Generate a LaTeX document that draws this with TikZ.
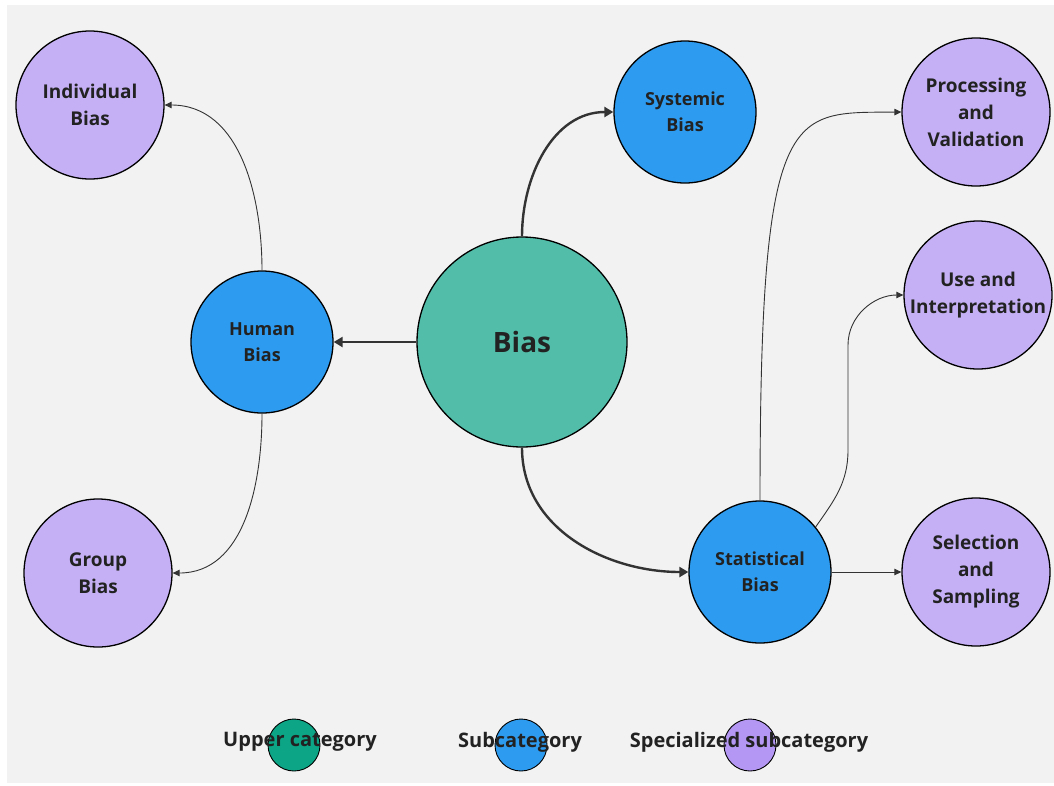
\documentclass[tikz,border=0pt]{standalone}
\usepackage{fontspec}
\setmainfont{Open Sans}
\usetikzlibrary{arrows.meta}
\definecolor{bgc}{HTML}{F2F2F2}
\definecolor{upc}{HTML}{52BEAA}
\definecolor{subc}{HTML}{2D9BF0}
\definecolor{specc}{HTML}{C5B0F5}
\definecolor{legup}{HTML}{0CA585}
\definecolor{legspec}{HTML}{B497F5}
\definecolor{linec}{HTML}{333333}
\definecolor{txtc}{HTML}{222222}
\tikzset{
  circ/.style={circle, draw=black, line width=1.3pt, inner sep=0pt, align=center,
    font=\bfseries\fontsize{19}{27}\selectfont, text=txtc},
  upper/.style={circ, fill=upc, minimum size=210pt, font=\bfseries\fontsize{28}{32}\selectfont},
  subn/.style={circ, fill=subc, minimum size=142pt, font=\bfseries\fontsize{18}{26}\selectfont},
  spec/.style={circ, fill=specc, minimum size=148pt},
  thickarrow/.style={draw=linec, line width=2.4pt, -{Triangle[length=9pt,width=10pt]}},
  thinarrow/.style={draw=linec, line width=0.9pt, -{Triangle[length=7pt,width=6.5pt]}},
  legcirc/.style={circle, draw=black, line width=0.9pt, minimum size=52pt, inner sep=0pt},
  legtxt/.style={font=\bfseries\fontsize{20}{24}\selectfont, text=txtc, inner sep=0pt}
}
\begin{document}
\begin{tikzpicture}[x=1pt,y=-1pt]
\useasboundingbox (0,0) rectangle (1054,785);
\fill[white] (0,0) rectangle (1054,785);
\fill[bgc] (7,5) rectangle (1054,783);

\node[upper] (bias) at (522,342) {Bias};
\node[subn] (human) at (262,342) {Human\\Bias};
\node[subn] (sys) at (685,112) {Systemic\\Bias};
\node[subn] (stat) at (760,572) {Statistical\\Bias};
\node[spec] (ind) at (90,105) {Individual\\Bias};
\node[spec] (grp) at (98,573) {Group\\Bias};
\node[spec] (proc) at (976,112) {Processing\\and\\Validation};
\node[spec] (use) at (978,295) {Use and\\Interpretation};
\node[spec] (sel) at (976,572) {Selection\\and\\Sampling};

\draw[thickarrow] (bias.west) -- (human.east);
\draw[thickarrow] (bias.north) to[out=90,in=180] (sys.west);
\draw[thickarrow] (bias.south) to[out=-90,in=180] (stat.west);

\draw[thinarrow] (human.north) to[out=90,in=0] (ind.east);
\draw[thinarrow] (human.south) to[out=-90,in=0] (grp.east);

\draw[thinarrow] (stat.north) .. controls (760,100) and (790,113) .. (proc.west);
\coordinate (u1) at (848,450);
\coordinate (u2) at (848,345);
\draw[thinarrow] (stat.39) to[out=55,in=-90] (u1) -- (u2) to[out=90,in=180] (use.west);
\draw[thinarrow] (stat.east) -- (sel.west);

\node[legcirc, fill=legup] (l1) at (294,745) {};
\node[legcirc, fill=subc] (l2) at (521,745) {};
\node[legcirc, fill=legspec] (l3) at (750,745) {};
\node[legtxt] (t1) at (300,742) {Upper category};
\node[legtxt] (t2) at (520,742) {Subcategory};
\node[legtxt] (t3) at (749,742) {Specialized subcategory};
\end{tikzpicture}
\end{document}
